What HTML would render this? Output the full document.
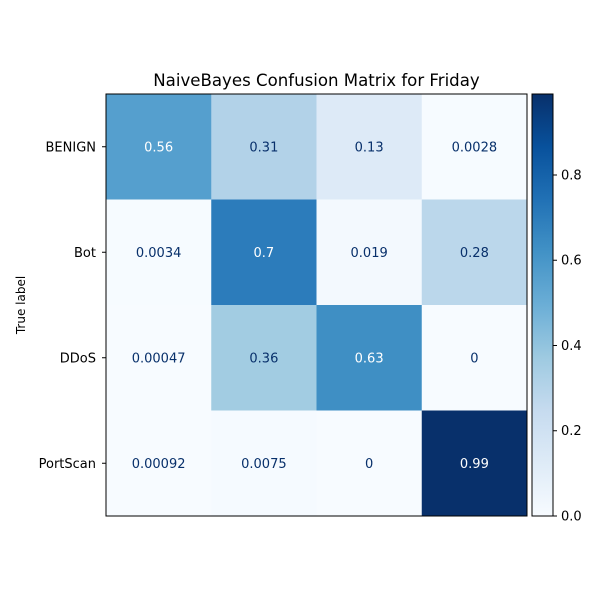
<!DOCTYPE html>
<html><head><meta charset="utf-8"><style>
body{margin:0;background:#fff;}
svg text{font-family:"DejaVu Sans","Liberation Sans",sans-serif;}
</style></head><body>
<svg id="c" width="600" height="600" viewBox="0 0 600 600" xmlns="http://www.w3.org/2000/svg">
<defs><linearGradient id="cbg" x1="0" y1="1" x2="0" y2="0"></linearGradient></defs>
<text x="316.5" y="86" font-size="16.6" text-anchor="middle">NaiveBayes Confusion Matrix for Friday</text>
<text transform="translate(25,305) rotate(-90)" font-size="12" text-anchor="middle">True label</text>
<g id="cells"></g>
<rect x="106" y="94" width="421" height="422" fill="none" stroke="#000" stroke-width="1"/>
<rect x="532" y="94" width="21" height="422" fill="url(#cbg)" stroke="#000" stroke-width="1"/>
<g id="cbticks"></g>
</svg>
<script>
const rowLabels=["BENIGN","Bot","DDoS","PortScan"];
const colLabels=["BENIGN","Bot","DDoS","PortScan"];
const values=[[0.56,0.31,0.13,0.0028],[0.0034,0.7,0.019,0.28],[0.00047,0.36,0.63,0],[0.00092,0.0075,0,0.99]];
const valueLabels=[["0.56","0.31","0.13","0.0028"],["0.0034","0.7","0.019","0.28"],["0.00047","0.36","0.63","0"],["0.00092","0.0075","0","0.99"]];
const cbTicks=[0.0,0.2,0.4,0.6,0.8];
const blues=[[247,251,255],[222,235,247],[198,219,239],[158,202,225],[107,174,214],[66,146,198],[33,113,181],[8,81,156],[8,48,107]];
function cmap(t){t=Math.max(0,Math.min(1,t));const p=t*8,i=Math.min(7,Math.floor(p)),f=p-i;const a=blues[i],b=blues[i+1];return `rgb(${a.map((v,k)=>Math.round(v+(b[k]-v)*f)).join(',')})`;}
const NS="http://www.w3.org/2000/svg";
const vmin=0,vmax=Math.max(...values.flat());
const X0=106,Y0=94,W=421,H=422;
const cw=W/colLabels.length,ch=H/rowLabels.length;
const xs=j=>X0+j*cw, ys=i=>Y0+i*ch;
const norm=v=>(v-vmin)/(vmax-vmin);
const g=document.getElementById('cells');
values.forEach((row,i)=>row.forEach((v,j)=>{
 const r=document.createElementNS(NS,'rect');
 r.setAttribute('x',xs(j));r.setAttribute('y',ys(i));r.setAttribute('width',cw+0.5);r.setAttribute('height',ch+0.5);r.setAttribute('fill',cmap(norm(v)));
 
 
 g.appendChild(r);
 const t=document.createElementNS(NS,'text');
 t.setAttribute('x',xs(j)+cw/2);t.setAttribute('y',ys(i)+ch/2+4.5);t.setAttribute('font-size','13');t.setAttribute('text-anchor','middle');
 t.setAttribute('fill',norm(v)>0.5?'#ffffff':'#08306b');t.textContent=valueLabels[i][j];
 
 
 g.appendChild(t);
}));
rowLabels.forEach((l,i)=>{
 const y=ys(i)+ch/2;
 const tk=document.createElementNS(NS,'line');
 tk.setAttribute('x1',X0-4);tk.setAttribute('x2',X0);tk.setAttribute('y1',y);tk.setAttribute('y2',y);tk.setAttribute('stroke','#000');
 
 
 g.appendChild(tk);
 const t=document.createElementNS(NS,'text');
 t.setAttribute('x',X0-10);t.setAttribute('y',y+4.5);t.setAttribute('font-size','13');t.setAttribute('text-anchor','end');t.textContent=l;
 
 
 g.appendChild(t);
});
const grad=document.getElementById('cbg');
for(let k=0;k<=8;k++){const s=document.createElementNS(NS,'stop');s.setAttribute('offset',k/8);s.setAttribute('stop-color',cmap(k/8));grad.appendChild(s);}
const cg=document.getElementById('cbticks');
const cy=v=>516-norm(v)*422;
cbTicks.forEach(v=>{
 const tk=document.createElementNS(NS,'line');
 tk.setAttribute('x1',553);tk.setAttribute('x2',557);tk.setAttribute('y1',cy(v));tk.setAttribute('y2',cy(v));tk.setAttribute('stroke','#000');
 
 
 cg.appendChild(tk);
 const t=document.createElementNS(NS,'text');
 t.setAttribute('x',561);t.setAttribute('y',cy(v)+4.5);t.setAttribute('font-size','13');t.textContent=v.toFixed(1);
 
 
 cg.appendChild(t);
});
</script>
</body></html>
